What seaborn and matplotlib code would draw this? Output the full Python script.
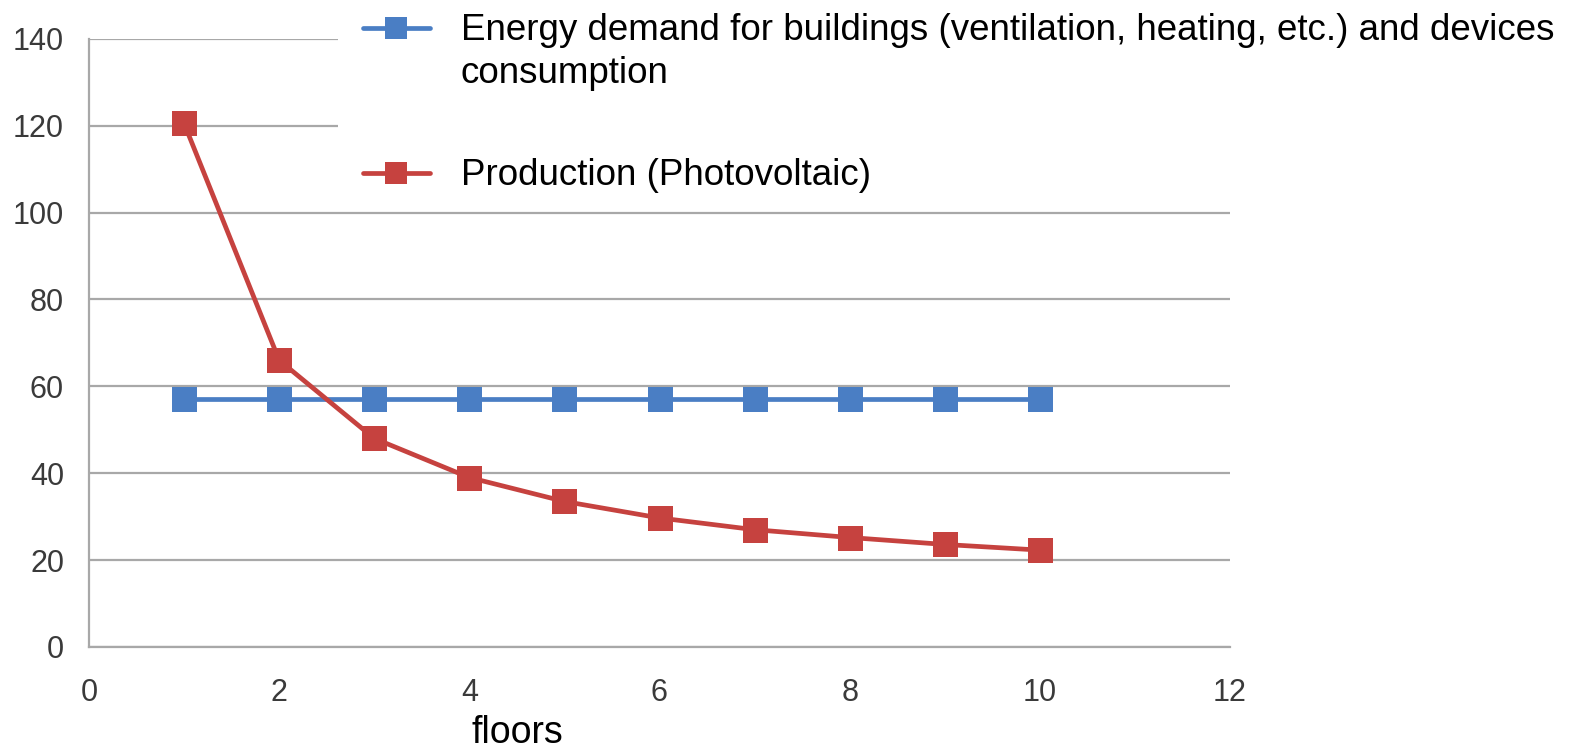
import matplotlib
matplotlib.use("Agg")
import matplotlib.pyplot as plt
import seaborn as sns
import pandas as pd
from matplotlib.lines import Line2D

# Number of floors and energy figures per floor count
floors = [1, 2, 3, 4, 5, 6, 7, 8, 9, 10]
demand = [57, 57, 57, 57, 57, 57, 57, 57, 57, 57]
production = [120.5, 66, 48, 39, 33.5, 29.7, 27, 25.2, 23.6, 22.3]

demand_label_lines = ["Energy demand for buildings (ventilation, heating, etc.) and devices",
                      "consumption"]
production_label = "Production (Photovoltaic)"
x_ticks = [0, 2, 4, 6, 8, 10, 12]
y_ticks = [0, 20, 40, 60, 80, 100, 120, 140]

BLUE = "#4A7EC4"
RED = "#C6423F"
GRID = "#A8A8A8"
TICK_TXT = "#3A3A3A"

sns.set_style("white")
plt.rcParams["font.family"] = ["Liberation Sans", "DejaVu Sans"]

df = pd.concat([
    pd.DataFrame({"floors": floors, "value": demand, "series": "demand"}),
    pd.DataFrame({"floors": floors, "value": production, "series": "production"}),
])

W, H = 1580, 750
fig = plt.figure(figsize=(W / 100, H / 100), dpi=100)
ax = fig.add_axes([89 / W, 103 / H, (1230 - 89) / W, (647 - 38.7) / H])

sns.lineplot(
    data=df, x="floors", y="value", hue="series",
    palette={"demand": BLUE, "production": RED},
    marker="s", markersize=18, markeredgewidth=0, linewidth=3.4,
    legend=False, ax=ax, zorder=3,
)

ax.set_xlim(0, 12)
ax.set_ylim(0, 140)
ax.set_xticks(x_ticks)
ax.set_yticks(y_ticks)
ax.set_ylabel("")
ax.set_xlabel("floors", fontsize=27, color="black")
ax.xaxis.label.set_va("baseline")
ax.xaxis.set_label_coords((517 - 89) / 1141, -96 / 608.3)

ax.yaxis.grid(True, color=GRID, linewidth=1.6, zorder=0)
ax.xaxis.grid(False)
for side in ("top", "right"):
    ax.spines[side].set_visible(False)
for side in ("left", "bottom"):
    ax.spines[side].set_color(GRID)
    ax.spines[side].set_linewidth(1.6)
ax.tick_params(axis="both", which="both", direction="out", length=7, width=1.4,
               color=GRID, labelsize=22, labelcolor=TICK_TXT)
ax.tick_params(axis="y", pad=11)
ax.tick_params(axis="x", pad=15)

# Legend, top right; its white box hides the two upper gridlines
FS = 26.5
FS_PX = FS * 100 / 72
h_demand = Line2D([], [], color=BLUE, marker="s", markersize=16, markeredgewidth=0, linewidth=3.4)
h_blank = Line2D([], [], color="none", linewidth=0)
h_prod = Line2D([], [], color=RED, marker="s", markersize=16, markeredgewidth=0, linewidth=3.4)

pad_a = 0.68
top_a = 41 - 0.75 * FS_PX - pad_a * FS_PX
leg_a = fig.legend([h_demand, h_blank, h_blank], demand_label_lines + [""], loc="upper left",
                   bbox_to_anchor=((363 - pad_a * FS_PX) / W, 1 - top_a / H),
                   fontsize=FS, labelcolor="black",
                   frameon=True, facecolor="white", edgecolor="none", framealpha=1,
                   fancybox=False, borderpad=pad_a, borderaxespad=0,
                   labelspacing=0.2, handlelength=1.82, handletextpad=0.84)

top_b = 186 - 0.75 * FS_PX
leg_b = fig.legend([h_prod], [production_label], loc="upper left",
                   bbox_to_anchor=(363 / W, 1 - top_b / H),
                   fontsize=FS, labelcolor="black", frameon=False,
                   borderpad=0, borderaxespad=0, handlelength=1.82, handletextpad=0.84)

fig.savefig("out.png", dpi=100, facecolor="white")
